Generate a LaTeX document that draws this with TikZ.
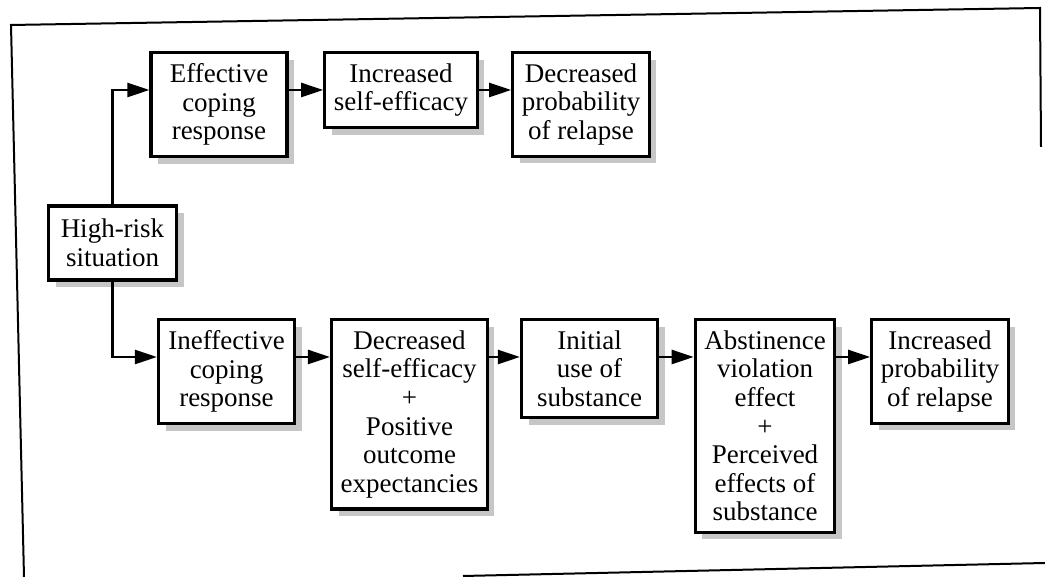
\documentclass[tikz,border=0pt]{standalone}
\usepackage{fontspec}
\setmainfont{Liberation Serif}
\usetikzlibrary{arrows.meta,shadows}

\tikzset{
  box/.style={draw, line width=3.2pt, fill=white, align=center,
    inner xsep=9pt, inner ysep=11pt, minimum width=136pt,
    font=\fontsize{27}{28.6}\selectfont,
    drop shadow={shadow xshift=7pt, shadow yshift=-7pt, fill=gray!45, opacity=1}},
  link/.style={line width=2.5pt, -{Triangle[length=22pt,width=14pt]}},
  frame/.style={line width=2pt}
}

\begin{document}
\begin{tikzpicture}[x=1pt,y=1pt]
    \useasboundingbox (0,0) rectangle (1045,577);
    %% Draw the frame
    \draw[frame] (24,0) -- (11,552) -- (1040,569) -- (1041,430);
    \draw[frame] (463,1) -- (1045,14);
    %% Draw the rows
    \coordinate (toprow) at (0,487);
    \coordinate (botrow) at (0,220);
    %% Draw the nodes
    \node[box, minimum width=128pt, minimum height=74pt] (risk) at (112.5,334) {High-risk\\situation};
    \node[box, anchor=north] (effcope) at (219,526) {Effective\\coping\\response};
    \node[box, anchor=north] (incself) at (401,526) {Increased\\self-efficacy};
    \node[box, anchor=north] (decprob) at (581,526) {Decreased\\probability\\of relapse};
    \node[box, anchor=north] (ineffcope) at (226.5,259) {Ineffective\\coping\\response};
    \node[box, anchor=north] (decself) at (409.5,259) {Decreased\\self-efficacy\\+\\Positive\\outcome\\expectancies};
    \node[box, anchor=north] (inituse) at (589.5,259) {Initial\\use of\\substance};
    \node[box, anchor=north] (abst) at (765,259) {Abstinence\\violation\\effect\\+\\Perceived\\effects of\\substance};
    \node[box, anchor=north] (incprob) at (940,259) {Increased\\probability\\of relapse};
    %% Draw the edges
    \begin{scope}[every path/.style={link}]
      \draw (risk.north) |- (effcope.west |- toprow);
      \draw (effcope.east |- toprow) -- (incself.west |- toprow);
      \draw (incself.east |- toprow) -- (decprob.west |- toprow);
      \draw (risk.south) |- (ineffcope.west |- botrow);
      \draw (ineffcope.east |- botrow) -- (decself.west |- botrow);
      \draw (decself.east |- botrow) -- (inituse.west |- botrow);
      \draw (inituse.east |- botrow) -- (abst.west |- botrow);
      \draw (abst.east |- botrow) -- (incprob.west |- botrow);
    \end{scope}
\end{tikzpicture}
\end{document}
